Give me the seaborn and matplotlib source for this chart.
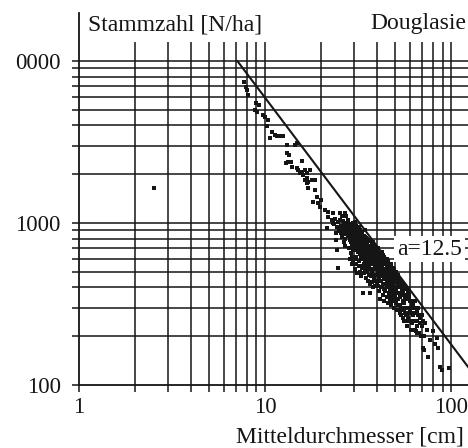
import numpy as np
import pandas as pd
import matplotlib
matplotlib.use("Agg")
import matplotlib.pyplot as plt
from matplotlib.ticker import FixedLocator, NullFormatter
import seaborn as sns

# ---------------- data ----------------
diameter_cm = [
    7.7, 7.9, 8.1, 8.0, 8.8, 9.1, 9.3, 9.0, 9.8, 10.0, 10.4, 10.3, 10.9, 11.3, 11.6,
    12.0, 12.5, 10.6, 13.1, 14.5, 14.8, 13.1, 13.5, 13.3, 13.8, 15.8, 12.9, 14.0, 14.8,
    15.0, 15.8, 16.4, 17.5, 15.4, 16.0, 16.8, 16.8, 16.4, 18.5, 17.0, 16.8, 17.9, 17.0,
    18.5, 19.0, 18.1, 19.2, 20.1, 19.7, 21.0, 21.8, 23.2, 25.3, 26.9, 21.8, 22.9, 23.2,
    21.5, 24.4, 25.3, 26.2, 27.9, 29.7, 24.4, 24.7, 2.53,
    23.5, 24.0, 24.6, 25.0, 25.5, 26.0, 26.3, 26.8, 27.2, 27.6, 23.8, 25.9, 24.2, 26.5, 27.9,
    28.2, 28.5, 28.8, 29.1, 29.4, 29.7, 30.0, 30.3, 30.6, 30.9, 31.2, 31.5, 31.8, 32.0,
    28.4, 29.0, 30.1, 31.0, 32.2, 29.9, 28.7, 31.6,
    32.5, 32.8, 33.1, 33.4, 33.7, 34.0, 34.3, 34.6, 34.9, 35.2, 35.5, 35.8, 36.1, 36.4,
    36.7, 37.0, 33.0, 34.8, 35.9, 36.9, 33.9, 32.6, 34.1, 35.3, 36.2, 37.2,
    33.6, 36.7, 38.1,
    37.5, 37.8, 38.2, 38.6, 39.0, 39.3, 39.7, 40.1, 40.5, 40.9, 41.3, 41.7, 42.1, 42.5,
    42.9, 38.0, 39.5, 40.8, 41.9, 42.6, 37.9, 39.9, 41.1, 42.3,
    43.3, 43.7, 44.1, 44.6, 45.0, 45.5, 46.0, 46.4, 46.9, 47.3, 47.8, 48.2, 48.7, 49.1,
    49.6, 44.0, 45.3, 46.7, 48.0, 49.4, 43.8, 47.0,
    50.2, 50.8, 51.5, 52.1, 52.8, 53.5, 54.1, 54.8, 55.5, 56.2, 57.0, 57.7, 58.4, 59.2,
    51.0, 53.0, 55.0, 56.8, 58.8, 59.5,
    60.5, 61.5, 62.5, 63.5, 64.5, 65.5, 66.5, 67.5, 68.5, 69.5, 70.5, 71.5, 72.5, 74.0,
    66.0, 62.0, 64.0,
    75.0, 77.0, 84.0, 72.0, 71.0, 85.0, 87.0, 98.0, 89.0, 80.0, 82.0,
    # dense core
    25.2, 25.7, 26.1, 26.6, 27.0, 27.4, 27.8, 28.1, 28.6, 29.2, 29.6, 30.2, 30.7, 26.9,
    28.9, 29.3, 27.3, 28.0, 30.4, 29.8,
    30.5, 30.8, 31.1, 31.4, 31.7, 32.1, 32.4, 32.7, 33.0, 33.3, 33.6, 33.9, 34.2, 34.5,
    34.8, 35.1, 30.9, 31.3, 32.3, 33.2, 34.4, 35.0, 31.9, 32.9, 34.0,
    35.4, 35.7, 36.0, 36.3, 36.6, 36.9, 37.2, 37.5, 37.8, 38.1, 38.4, 38.7, 39.0, 39.3,
    39.6, 39.9, 35.6, 36.5, 37.4, 38.3, 38.9, 39.5, 40.0, 35.2, 36.8, 37.7, 38.6, 39.8,
    40.3, 40.7, 41.0, 41.4, 41.8, 42.2, 42.6, 43.0, 43.4, 43.8, 44.2, 44.7, 45.1, 45.6,
    46.0, 40.5, 41.6, 42.8, 43.6, 44.9, 45.8, 41.2, 42.4, 44.4, 46.2, 40.6, 43.1, 45.3,
    46.5, 47.0, 47.5, 48.0, 48.5, 49.0, 49.5, 50.0, 50.5, 51.0, 51.5, 52.0, 46.8, 47.7,
    48.8, 49.8, 50.8, 51.8, 47.2, 49.2,
    52.5, 53.2, 53.9, 54.6, 55.3, 56.0, 56.7, 57.4, 58.1, 58.8, 59.6, 53.6, 55.8, 57.0,
    52.7, 54.3, 59.0, 56.3, 58.0,
    60.2, 61.0, 61.8, 62.8, 63.8, 64.8, 65.8, 66.8, 67.8, 68.8, 69.8, 60.8, 62.3, 63.2, 65.0,
    # lower edge of the core
    28.5, 29.2, 29.8, 30.3, 30.9, 31.4, 31.9, 32.4, 32.9, 33.4, 33.9, 29.5, 31.0, 32.0, 33.7,
    34.3, 34.7, 35.2, 35.7, 36.2, 36.7, 37.2, 37.7, 38.2, 38.7, 39.2, 39.7, 35.0, 36.4,
    37.9, 39.4,
    40.2, 40.9, 41.5, 42.2, 42.9, 43.6, 44.3, 45.0, 45.7, 46.4, 47.1, 47.8, 41.0, 43.2,
    45.4, 47.5,
    48.6, 49.5, 50.4, 51.3, 52.2, 53.1, 54.0, 55.0, 56.0, 57.0, 58.0, 59.0,
    # close under the line
    30.0, 31.5, 33.0, 34.5, 36.0, 37.5, 39.0, 40.5, 42.0, 43.5, 45.0, 46.5, 48.0, 49.5,
    51.0, 52.5, 54.0, 55.5, 57.0, 58.5, 60.0, 62.0, 64.0, 66.0,
    # middle of the core
    25.5, 26.2, 27.1, 27.9, 28.7, 29.6, 30.4, 31.2, 32.0, 32.8, 33.6, 34.4, 35.2, 36.0,
    36.8, 37.6, 38.4, 39.2, 40.0, 40.8, 41.6, 42.4, 43.2, 44.0, 44.8, 45.6, 46.4, 47.2,
    48.0, 48.8, 49.6, 50.4,
]
stems_per_ha = [
    7400, 6900, 6200, 6600, 5000, 4850, 5350, 5500, 4640, 4500, 4330, 3980, 3650, 3480, 3440,
    3440, 3440, 3350, 3020, 3020, 3100, 2700, 2630, 2380, 2380, 2420, 2330, 2220, 2170,
    2120, 2060, 2120, 2120, 2040, 1980, 2040, 1900, 1840, 1840, 1790, 1770, 1840, 1640,
    1590, 1440, 1350, 1330, 1380, 1260, 1200, 1170, 1150, 1150, 1150, 1090, 1040, 1000,
    930, 950, 930, 905, 880, 880, 680, 526, 1640,
    980, 870, 1010, 890, 960, 820, 1030, 920, 860, 990, 1060, 1100, 790, 760, 940,
    900, 780, 850, 940, 720, 810, 870, 690, 760, 905, 830, 740, 660, 790,
    700, 650, 950, 620, 880, 770, 985, 710,
    760, 680, 610, 800, 720, 650, 580, 760, 690, 620, 740, 560, 680, 610,
    720, 650, 540, 810, 770, 580, 700, 820, 630, 690, 540, 700,
    370, 370, 400,
    640, 560, 600, 680, 520, 610, 570, 650, 490, 590, 540, 620, 470, 560,
    510, 480, 660, 450, 580, 600, 700, 530, 610, 530,
    560, 480, 520, 420, 550, 470, 400, 500, 440, 530, 380, 460, 410, 490,
    370, 590, 430, 560, 500, 440, 390, 470,
    450, 400, 340, 420, 370, 310, 440, 380, 330, 400, 300, 360, 280, 340,
    470, 290, 420, 350, 380, 300,
    330, 280, 310, 250, 300, 230, 270, 210, 260, 230, 250, 200, 240, 218,
    209, 240, 330,
    149, 190, 195, 164, 170, 170, 129, 127, 124, 215, 180,
    # dense core
    1040, 870, 940, 1000, 800, 930, 1050, 830, 960, 860, 1000, 820, 960, 720,
    760, 900, 1100, 990, 1020, 680,
    870, 790, 920, 680, 850, 720, 900, 610, 780, 860, 640, 760, 830, 700,
    600, 780, 700, 760, 640, 700, 900, 660, 950, 830, 560,
    800, 650, 720, 590, 780, 660, 560, 740, 620, 690, 520, 610, 720, 560,
    640, 480, 540, 700, 500, 760, 580, 700, 590, 720, 620, 680, 470, 670,
    630, 560, 500, 650, 440, 600, 490, 580, 450, 620, 480, 560, 420, 520,
    460, 410, 520, 400, 520, 500, 580, 580, 660, 380, 540, 700, 630, 600,
    420, 510, 450, 380, 530, 420, 470, 360, 500, 400, 450, 340, 340, 560,
    350, 430, 330, 480, 390, 520,
    400, 350, 420, 300, 370, 320, 410, 270, 340, 250, 360, 270, 250, 390,
    450, 360, 300, 280, 230,
    290, 250, 330, 270, 220, 280, 250, 300, 240, 200, 270, 220, 300, 280, 215,
    # lower edge of the core
    600, 560, 590, 520, 560, 490, 540, 500, 470, 530, 490, 620, 600, 580, 600,
    510, 460, 500, 440, 480, 420, 470, 430, 400, 450, 410, 440, 540, 520,
    520, 480,
    420, 380, 340, 400, 360, 330, 390, 350, 320, 370, 330, 310, 440, 420,
    400, 360,
    330, 300, 320, 290, 310, 280, 300, 260, 290, 250, 270, 260,
    # close under the line
    1000, 920, 880, 820, 780, 730, 680, 640, 610, 570, 540, 510, 480, 460,
    440, 420, 400, 380, 360, 345, 330, 315, 300, 285,
    # middle of the core
    880, 850, 900, 870, 820, 770, 740, 700, 670, 740, 690, 660, 610, 640,
    590, 600, 570, 540, 520, 540, 490, 470, 480, 450, 460, 430, 450, 420,
    410, 400, 390, 380,
]
line_diameter = [7.1, 125.0]
line_stems = [10000, 127]
line_label = "a=12.5"

x_ticks = [1, 10, 100]
x_tick_labels = ["1", "10", "100"]
y_ticks = [100, 1000, 10000]
y_tick_labels = ["100", "1000", "0000"]

y_title = "Stammzahl [N/ha]"
species = "Douglasie"
x_title = "Mitteldurchmesser [cm]"

df = pd.DataFrame({"d": diameter_cm, "n": stems_per_ha})
line_df = pd.DataFrame({"d": line_diameter, "n": line_stems})

# ---------------- style ----------------
sns.set_theme(style="white")
plt.rcParams["font.family"] = ["Liberation Serif", "DejaVu Serif"]

INK = "#151515"
W, H = 468, 448
fig = plt.figure(figsize=(W / 100, H / 100), dpi=100)
ax = fig.add_axes([79 / W, 63 / H, 389 / W, 372 / H])
ax.set_xscale("log")
ax.set_yscale("log")
XMAX, YMAX = 123.4, 19770
ax.set_xlim(1, XMAX)
ax.set_ylim(100, YMAX)

# log-paper grid
gx = [m * 10 ** e for e in range(0, 3) for m in range(1, 10) if m * 10 ** e <= 100]
gy = [m * 10 ** e for e in (2, 3) for m in range(1, 10)] + [10000]
ax.vlines(gx[1:], 100, 13100, color=INK, lw=1.1, zorder=1)
ax.hlines(gy[1:], 1, XMAX, color=INK, lw=1.1, zorder=1)

ax.xaxis.set_major_locator(FixedLocator(x_ticks))
ax.xaxis.set_minor_locator(FixedLocator(gx))
ax.xaxis.set_minor_formatter(NullFormatter())
ax.set_xticklabels(x_tick_labels)
ax.yaxis.set_major_locator(FixedLocator(y_ticks))
ax.yaxis.set_minor_locator(FixedLocator(gy))
ax.yaxis.set_minor_formatter(NullFormatter())
ax.set_yticklabels(y_tick_labels)
ax.tick_params(which="both", direction="out", length=5.2, width=1.1, color=INK,
               labelsize=16.5, labelcolor=INK, left=True, bottom=True)
ax.tick_params(axis="y", which="major", pad=8)
ax.tick_params(axis="x", which="major", pad=3.5)

for s in ("top", "right"):
    ax.spines[s].set_visible(False)
for s in ("left", "bottom"):
    ax.spines[s].set_color(INK)
    ax.spines[s].set_linewidth(1.3)

sns.scatterplot(data=df, x="d", y="n", ax=ax, color=INK, s=5.5, marker="s",
                linewidth=0, zorder=3, legend=False)
sns.lineplot(data=line_df, x="d", y="n", ax=ax, color=INK, lw=1.5, zorder=4,
             legend=False)
ax.set_xlabel("")
ax.set_ylabel("")

ax.text((397 - 79) / 389, (385 - 249) / 372, line_label, transform=ax.transAxes,
        ha="left", va="center", fontsize=17, color=INK, zorder=5,
        bbox=dict(facecolor="white", edgecolor="none", pad=2))

fig.text(88 / W, 1 - 31 / H, y_title, ha="left", va="baseline", fontsize=17, color=INK)
fig.text(466 / W, 1 - 29 / H, species, ha="right", va="baseline", fontsize=17, color=INK)
fig.text(464 / W, 1 - 442 / H, x_title, ha="right", va="baseline", fontsize=17, color=INK)

fig.savefig("out.png", dpi=100, facecolor="white")
